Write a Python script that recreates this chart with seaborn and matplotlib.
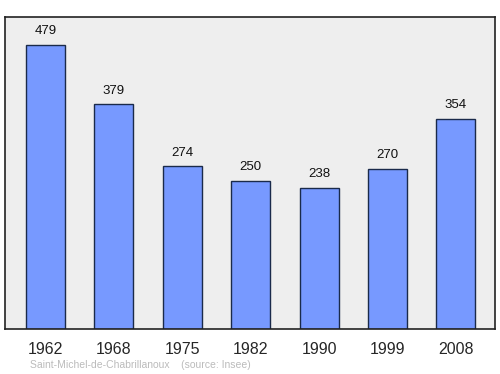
import matplotlib
matplotlib.use("Agg")
import matplotlib.pyplot as plt
import seaborn as sns
import pandas as pd

years = ["1962", "1968", "1975", "1982", "1990", "1999", "2008"]
population = [479, 379, 274, 250, 238, 270, 354]

sns.set_style("white")
plt.rcParams['font.family'] = ['Liberation Sans', 'DejaVu Sans']

df = pd.DataFrame({"year": years, "pop": population})

fig = plt.figure(figsize=(5, 3.74), dpi=100)
ax = fig.add_axes([0.01, 1 - 329/374, 0.98, (329 - 17)/374])
ax.set_facecolor("#eeeeee")
sns.barplot(data=df, x="year", y="pop", color="#7799ff", saturation=1,
            width=0.57, edgecolor="#1a2a4a", linewidth=1, ax=ax)
for i, v in enumerate(population):
    ax.annotate(str(v), (i, v), xytext=(0, 5.5), textcoords="offset points",
                ha="center", va="bottom", fontsize=9.5, color="#111111")
ax.set_xlim(-0.59, 6.57)
ax.set_ylim(0, 526)
ax.set_yticks([])
ax.set_xlabel("")
ax.set_ylabel("")
ax.tick_params(axis="x", length=0, labelsize=11.5, pad=9)
for s in ax.spines.values():
    s.set_color("#222222")
    s.set_linewidth(1.2)
fig.text(30/500, 1 - 365/374, "Saint-Michel-de-Chabrillanoux    (source: Insee)",
         fontsize=7.5, color="#bbbbbb", ha="left", va="center")
fig.savefig("out.png", dpi=100)
